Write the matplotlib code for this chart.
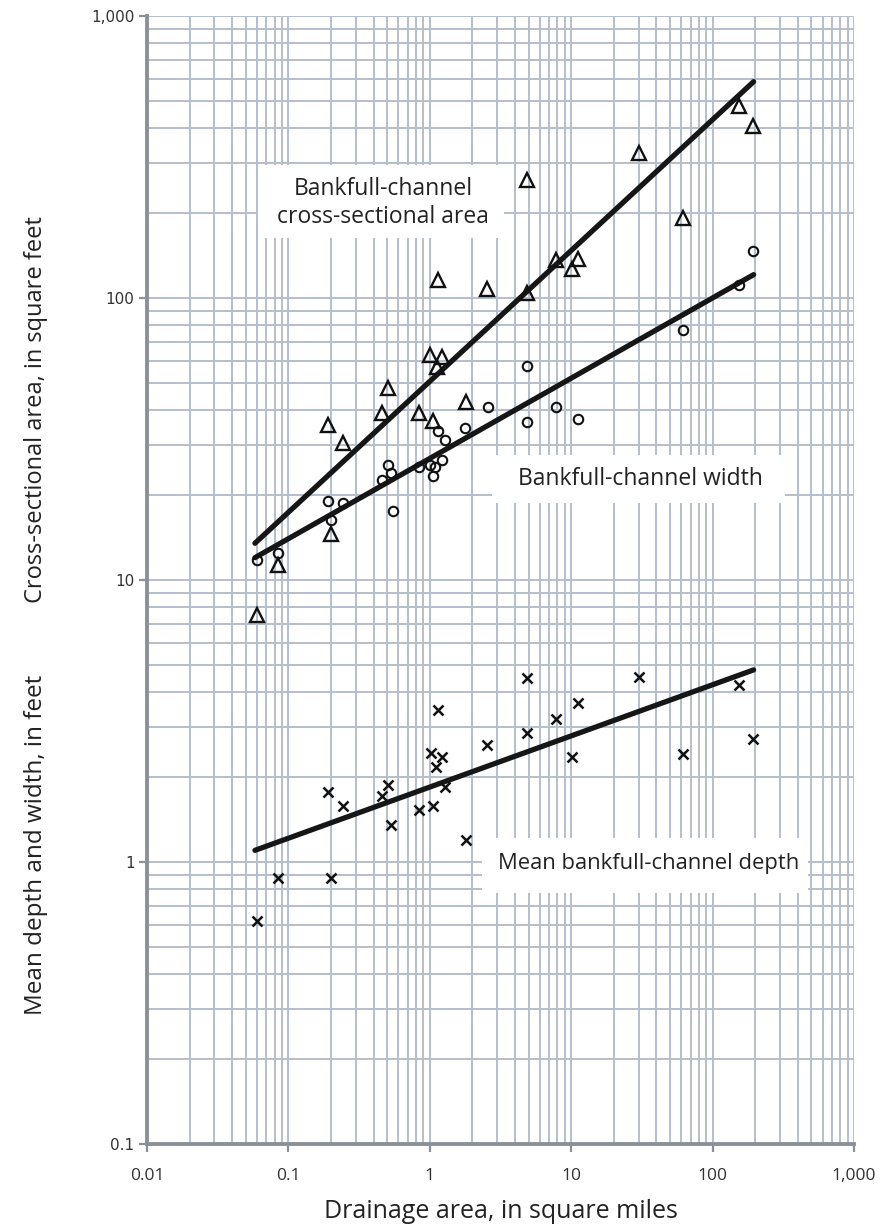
import matplotlib.pyplot as plt
import matplotlib.ticker as mticker
from matplotlib.patches import Rectangle
import numpy as np

# Bankfull-channel cross-sectional area (square feet)
area_x = [0.060, 0.084, 0.20, 0.19, 0.243, 0.46, 0.506, 0.836, 1.05, 1.0, 1.22, 1.12,
          1.15, 1.79, 2.55, 4.87, 4.85, 7.78, 10.2, 11.1, 30.3, 61.5, 154, 193]
area_y = [7.5, 11.3, 14.6, 35.5, 30.5, 39, 47.9, 39, 36.7, 63, 62, 57,
          116, 42.9, 108, 104, 262, 136, 127, 138, 326, 192, 480, 407]

# Bankfull-channel width (feet)
width_x = [0.060, 0.084, 0.19, 0.20, 0.243, 0.46, 0.506, 0.53, 0.55, 0.836, 1.0, 1.09, 1.05,
           1.22, 1.29, 1.15, 1.78, 2.6, 4.87, 4.87, 7.77, 11.1, 61.5, 154, 193]
width_y = [11.8, 12.5, 19.1, 16.3, 18.7, 22.6, 25.6, 23.9, 17.6, 25.1, 25.6, 25.1, 23.4,
           26.7, 31.3, 33.8, 34.5, 41, 57.5, 36.4, 41, 37.2, 77, 111, 147]

# Mean bankfull-channel depth (feet)
depth_x = [0.060, 0.085, 0.20, 0.19, 0.243, 0.46, 0.506, 0.53, 0.836, 1.05, 1.02, 1.10, 1.22,
           1.29, 1.15, 1.80, 2.55, 4.87, 4.87, 7.77, 10.2, 11.1, 30.3, 61.5, 154, 193]
depth_y = [0.62, 0.88, 0.88, 1.77, 1.58, 1.71, 1.87, 1.35, 1.53, 1.58, 2.43, 2.17, 2.36,
           1.85, 3.46, 1.20, 2.6, 4.5, 2.86, 3.21, 2.36, 3.66, 4.54, 2.41, 4.25, 2.72]

# regression lines (end points)
fit_x = [0.058, 195]
fit_area = [13.5, 585]
fit_width = [12.0, 121]
fit_depth = [1.1, 4.8]

x_ticks = [0.01, 0.1, 1, 10, 100, 1000]
x_labels = ["0.01", "0.1", "1", "10", "100", "1,000"]
y_ticks = [0.1, 1, 10, 100, 1000]
y_labels = ["0.1", "1", "10", "100", "1,000"]

grid_col = "#b4bfcb"
axis_col = "#8a9198"
txt_col = "#222222"
font = "Open Sans"

fig = plt.figure(figsize=(8.94, 12.32), dpi=100)
ax = fig.add_axes([147/894, 1-1144/1232, (854-147)/894, (1144-16)/1232])
ax.set_xscale("log")
ax.set_yscale("log")
ax.set_xlim(0.01, 1000)
ax.set_ylim(0.1, 1000)

ax.xaxis.set_minor_locator(mticker.LogLocator(base=10, subs=np.arange(2, 10), numticks=20))
ax.yaxis.set_minor_locator(mticker.LogLocator(base=10, subs=np.arange(2, 10), numticks=20))
ax.xaxis.set_minor_formatter(mticker.NullFormatter())
ax.yaxis.set_minor_formatter(mticker.NullFormatter())
ax.grid(which="both", color=grid_col, lw=1.4)
ax.set_axisbelow(True)

ax.set_xticks(x_ticks)
ax.set_xticklabels(x_labels, family=font, fontsize=12.5, color="#333333")
ax.set_yticks(y_ticks)
ax.set_yticklabels(y_labels, family="DejaVu Sans", fontsize=11, color="#333333")
ax.tick_params(which="major", direction="out", length=6, width=1.6, color=axis_col, pad=3)
ax.tick_params(axis="x", pad=11)
ax.tick_params(which="minor", length=0)

for s in ["top", "right"]:
    ax.spines[s].set_visible(False)
for s in ["left", "bottom"]:
    ax.spines[s].set_color(axis_col)
    ax.spines[s].set_linewidth(2.8)

ax.plot(fit_x, fit_area, color="#161616", lw=3.8, solid_capstyle="round", zorder=3)
ax.plot(fit_x, fit_width, color="#161616", lw=3.8, solid_capstyle="round", zorder=3)
ax.plot(fit_x, fit_depth, color="#161616", lw=3.8, solid_capstyle="round", zorder=3)

ax.plot(area_x, area_y, ls="none", marker="^", ms=9.5, mfc="none", mec="#111111", mew=1.7, zorder=4)
ax.plot(width_x, width_y, ls="none", marker="o", ms=6.8, mfc="none", mec="#111111", mew=1.5, zorder=4)
ax.plot(depth_x, depth_y, ls="none", marker="x", ms=6.8, mec="#111111", mew=1.8, zorder=4)

# white label boxes covering the grid
ax.add_patch(Rectangle((0.061, 163), 3.35 - 0.061, 296 - 163, fc="white", ec="none", zorder=1.5))
ax.add_patch(Rectangle((2.75, 18.8), 325 - 2.75, 27.7 - 18.8, fc="white", ec="none", zorder=1.5))
ax.add_patch(Rectangle((2.34, 0.776), 470 - 2.34, 1.216 - 0.776, fc="white", ec="none", zorder=1.5))

ax.text(0.467, 217, "Bankfull-channel\ncross-sectional area", ha="center", va="center",
        family=font, fontsize=16.5, color=txt_col, linespacing=1.2, zorder=2)
ax.text(30.7, 22.8, "Bankfull-channel width", ha="center", va="center",
        family=font, fontsize=16.5, color=txt_col, zorder=2)
ax.text(35.0, 0.984, "Mean bankfull-channel depth", ha="center", va="center",
        family=font, fontsize=15.8, color=txt_col, zorder=2)

fig.text(0.5 * (147 + 854) / 894, 1 - 1211/1232, "Drainage area, in square miles",
         ha="center", va="center", family=font, fontsize=18, color=txt_col)
fig.text(36/894, 1 - 410/1232, "Cross-sectional area, in square feet", rotation=90,
         ha="center", va="center", family=font, fontsize=17, color=txt_col)
fig.text(36/894, 1 - 845/1232, "Mean depth and width, in feet", rotation=90,
         ha="center", va="center", family=font, fontsize=17.5, color=txt_col)

fig.savefig("out.png", dpi=100)
